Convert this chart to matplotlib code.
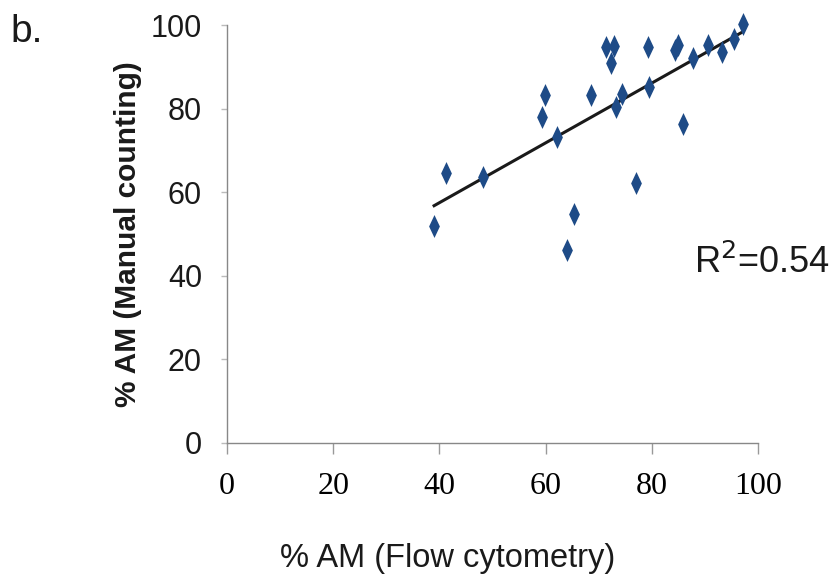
import numpy as np
import matplotlib
matplotlib.use("Agg")
import matplotlib.pyplot as plt
from matplotlib.path import Path

# % AM measured by flow cytometry vs. manual counting
flow_pct = [39.0, 41.2, 48.2, 59.3, 59.9, 62.1, 64.1, 65.3, 68.5, 71.4,
            72.4, 72.9, 73.3, 74.3, 77.0, 79.2, 79.4, 84.4, 84.9, 85.9,
            87.8, 90.5, 93.3, 95.5, 97.1]
manual_pct = [51.8, 64.7, 63.7, 78.1, 83.3, 73.3, 46.2, 54.8, 83.3, 94.8,
              91.0, 95.0, 80.3, 83.5, 62.1, 94.8, 85.1, 94.0, 95.2, 76.3,
              92.0, 95.2, 93.6, 96.6, 100.2]
x_ticks = [0, 20, 40, 60, 80, 100]
y_ticks = [0, 20, 40, 60, 80, 100]
r2_text = "0.54"

x = np.array(flow_pct)
y = np.array(manual_pct)
slope, intercept = np.polyfit(x, y, 1)
xfit = np.array([x.min(), x.max()])

# narrow diamond marker
diamond = Path([(0, 1), (0.47, 0), (0, -1), (-0.47, 0), (0, 1)],
               [Path.MOVETO, Path.LINETO, Path.LINETO, Path.LINETO, Path.CLOSEPOLY])

fig = plt.figure(figsize=(8.33, 5.82), dpi=100)
ax = fig.add_axes([0.2725, 0.239, 0.6375, 0.718])

ax.plot(xfit, slope * xfit + intercept, color="#1a1a1a", lw=2.2, zorder=2)
ax.plot(x, y, ls="none", marker=diamond, ms=16.5, color="#1e4b87", mew=0,
        zorder=3, clip_on=False)

ax.set_xlim(0, 100)
ax.set_ylim(0, 100)
ax.set_xticks(x_ticks)
ax.set_yticks(y_ticks)
ax.set_xticklabels([str(v) for v in x_ticks], family="Liberation Serif", fontsize=23)
ax.set_yticklabels([str(v) for v in y_ticks], family="Liberation Sans", fontsize=22,
                   color="#1a1a1a")
ax.tick_params(axis="x", length=8, width=1, color="#999999", pad=13)
ax.tick_params(axis="y", length=4, width=1, color="#bbbbbb", pad=14)
for side in ("top", "right"):
    ax.spines[side].set_visible(False)
for side in ("left", "bottom"):
    ax.spines[side].set_color("#888888")
    ax.spines[side].set_linewidth(1)

fig.text(448 / 833, 1 - 558 / 582, "% AM (Flow cytometry)", family="Liberation Sans",
         fontsize=23.5, ha="center", va="center", color="#1a1a1a")
ax.set_ylabel("% AM (Manual counting)", family="Liberation Sans", fontsize=21.5,
              fontweight="bold", labelpad=6, color="#1a1a1a")

ax.text(88, 43, r"R$^2$=" + r2_text, family="Liberation Sans", fontsize=26,
        ha="left", va="center", color="#1a1a1a")
fig.text(0.012, 0.945, "b.", family="Liberation Sans", fontsize=28, ha="left",
         va="center", color="#1a1a1a")

fig.savefig("out.png", dpi=100, facecolor="white")
